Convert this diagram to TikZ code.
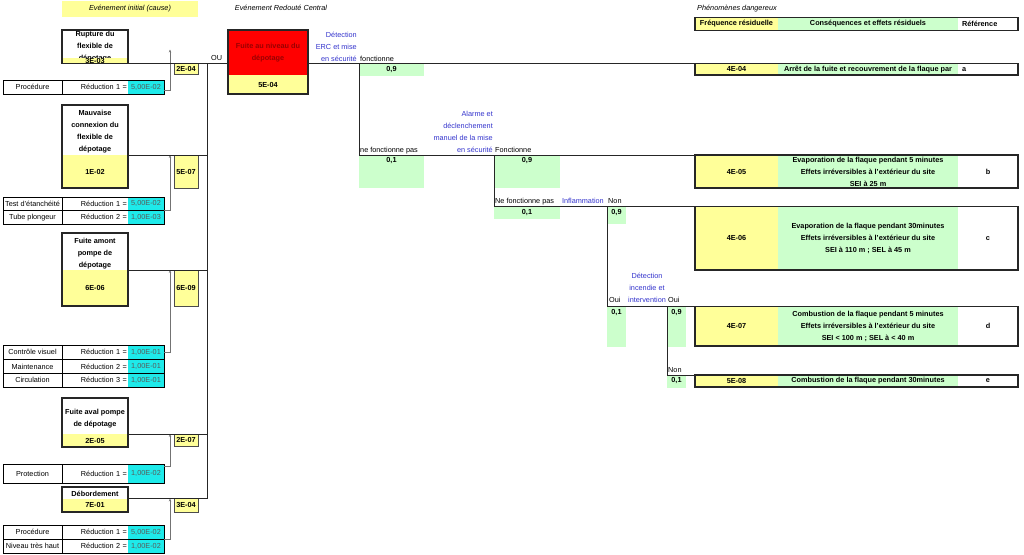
\documentclass[tikz,border=0pt]{standalone}
\usepackage{fontspec}
\setmainfont{Liberation Sans}
\usepackage{xcolor}
\usepackage{tikz}
\usetikzlibrary{positioning,calc,arrows.meta}

\definecolor{xlyellow}{HTML}{FFFF99}
\definecolor{xlgreen}{HTML}{CCFFCC}
\definecolor{xlcyan}{HTML}{1EEAEA}
\definecolor{xlblue}{HTML}{3333CC}
\definecolor{xlred}{HTML}{FF0000}
\definecolor{xlmaroon}{HTML}{990000}

\begin{document}
\begin{tikzpicture}[x=1pt, y=-1pt,
    cell/.style={rectangle, inner sep=0pt, outer sep=0pt, anchor=north west},
    title/.style={inner sep=0pt, font=\itshape},
    causetxt/.style={inner sep=0pt, font=\bfseries, align=center},
    freqcell/.style={cell, fill=xlyellow, font=\bfseries, minimum width=66pt},
    gatebox/.style={cell, fill=xlyellow, draw=black!70, line width=0.6pt, font=\bfseries, minimum width=24pt},
    barrier/.style={cell, draw, line width=0.6pt, minimum width=59pt},
    reduc/.style={cell, text width=64pt, inner xsep=1pt, align=right},
    reducval/.style={cell, fill=xlcyan, text=black!65, minimum width=36pt},
    prob/.style={cell, fill=xlgreen, label={[font=\bfseries, anchor=north, inner sep=2.5pt]north:#1}},
    branchname/.style={inner sep=0pt, text=xlblue},
    state/.style={inner sep=0pt, anchor=base west},
    frame/.style={draw=black!85, line width=1.4pt},
    link/.style={draw=black!85, line width=0.9pt},
    barrow/.style={draw=black!55, line width=0.5pt, -{Stealth[length=3pt,width=2.4pt]}},
    resfreq/.style={cell, fill=xlyellow, font=\bfseries, minimum width=83pt},
    rescons/.style={cell, fill=xlgreen, font=\bfseries, minimum width=180pt, align=center},
    resref/.style={cell, fill=white, font=\bfseries, minimum width=60pt}
  ]
    \fontsize{7.3}{12}\selectfont
    \useasboundingbox (0,0) rectangle (1024,554);

    % Titres
    \node[cell, fill=xlyellow, font=\itshape, minimum width=136pt, minimum height=16pt] (hcause) at (62,1) {Evénement initial (cause)};
    \node[title, anchor=base] (herc) at (281,10.5) {Evénement Redouté Central};
    \node[title, anchor=base west] (hphen) at (697,10) {Phénomènes dangereux};
    \node[resfreq, minimum height=13pt] (hfreq) at (695,17.5) {Fréquence résiduelle};
    \node[rescons, minimum height=13pt] (hcons) at (778,17.5) {Conséquences et effets résiduels};
    \node[resref, minimum height=13pt, text width=52pt, inner xsep=4pt] (href) at (958,17.5) {Référence};
    \draw[frame] (hfreq.north west) rectangle (href.south east);

    % Evénements initiaux
    \foreach \nm/\ya/\yt/\yb/\yc/\txt/\val in {
        c1/30/47/57.5/63.5/Rupture du\\flexible de\\dépotage/3E-03,
        c2/105/131.5/155/188/Mauvaise\\connexion du\\flexible de\\dépotage/1E-02,
        c3/233/253.5/270/306/Fuite amont\\pompe de\\dépotage/6E-06,
        c4/398/418.5/434/447/Fuite aval pompe\\de dépotage/2E-05,
        c5/487/494/498.5/512/Débordement/7E-01}
    {
        \node[causetxt] (\nm t) at (95,\yt) {\txt};
        \node[freqcell, minimum height={(\yc-\yb)*1pt}] (\nm v) at (62,\yb) {\val};
        \draw[frame] (62,\ya) rectangle (128,\yc);
    }

    % Frequences apres barrieres
    \node[gatebox, minimum height=11pt] (g1) at (174,63.5) {2E-04};
    \node[gatebox, minimum height=33pt] (g2) at (174,155) {5E-07};
    \node[gatebox, minimum height=36pt] (g3) at (174,270) {6E-09};
    \node[gatebox, minimum height=12pt] (g4) at (174,434) {2E-07};
    \node[gatebox, minimum height=13.5pt] (g5) at (174,498.5) {3E-04};

    % Barrieres de prevention
    \foreach \nm/\y/\h/\lab/\k/\val in {
        b1a/80/14/Procédure/1/{5,00E-02},
        b2a/197/13.5/Test d'étanchéité/1/{5,00E-02},
        b2b/210.5/13.5/Tube plongeur/2/{1,00E-03},
        b3a/345/14.5/Contrôle visuel/1/{1,00E-01},
        b3b/359.5/14/Maintenance/2/{1,00E-01},
        b3c/373.5/13.5/Circulation/3/{1,00E-01},
        b4a/464/19/Protection/1/{1,00E-02},
        b5a/525/14/Procédure/1/{5,00E-02},
        b5b/539/14/Niveau très haut/2/{1,00E-02}}
    {
        \node[barrier, minimum height=\h pt] (\nm) at (3,\y) {\lab};
        \node[reduc, minimum height=\h pt] (\nm r) at (62,\y) {Réduction \k~=};
        \node[reducval, minimum height=\h pt] (\nm v) at (128,\y) {\val};
        \draw[line width=0.6pt] (\nm r.north west) rectangle (\nm v.south east);
    }

    \draw[barrow] ([yshift=-3pt]b1av.east) -| ([xshift=-4pt,yshift=14pt]g1.north west);
    \draw[barrow] (b2av.south east) -| ([xshift=-4pt]g2.north west);
    \draw[barrow] (b3av.east) -| ([xshift=-4pt]g3.north west);
    \draw[barrow] ([yshift=-2pt]b4av.north east) -| ([xshift=-4pt]g4.north west);
    \draw[barrow] (b5av.south east) -| ([xshift=-4pt]g5.north west);

    % Evenement redoute central
    \node[cell, fill=xlred, text=xlmaroon, font=\bfseries, align=center, minimum width=80pt, minimum height=45pt] (erc) at (228,30) {Fuite au niveau du\\dépotage};
    \node[freqcell, minimum width=80pt, minimum height=19pt] (ercv) at (228,75) {5E-04};
    \draw[frame] (erc.north west) rectangle (ercv.south east);
    \node[state] (oulbl) at (211,60.5) {OU};

    % Arbre d'evenements
    \node[prob={0,9}, minimum width=65pt, minimum height=12pt] (p1y) at (359,63.5) {};
    \node[prob={0,1}, minimum width=65pt, minimum height=33pt] (p1n) at (359,155) {};
    \node[prob={0,9}, minimum width=66pt, minimum height=33pt] (p2y) at (494,155) {};
    \node[prob={0,1}, minimum width=66pt, minimum height=12.5pt] (p2n) at (494,206.5) {};
    \node[prob={0,9}, minimum width=19pt, minimum height=17.5pt] (p3y) at (607,206.5) {};
    \node[prob={0,1}, minimum width=19pt, minimum height=40pt] (p3n) at (607,306.5) {};
    \node[prob={0,9}, minimum width=19pt, minimum height=40pt] (p4y) at (667,306.5) {};
    \node[prob={0,1}, minimum width=19pt, minimum height=12.5pt] (p4n) at (667,375) {};

    \node[branchname, align=right, anchor=south east] (q1) at (357,61.5) {Détection\\ERC et mise\\en sécurité};
    \node[branchname, align=right, anchor=south east] (q2) at (493,152.5) {Alarme et\\déclenchement\\manuel de la mise\\en sécurité};
    \node[branchname, anchor=base east] (q3) at (604,203.5) {Inflammation};
    \node[branchname, align=center, anchor=south] (q4) at (647,302.5) {Détection\\incendie et\\intervention};

    \node[state] (s1y) at (360,61) {fonctionne};
    \node[state] (s1n) at (360,152.5) {ne fonctionne pas};
    \node[state] (s2y) at (495,152.5) {Fonctionne};
    \node[state] (s2n) at (495,203.5) {Ne fonctionne pas};
    \node[state] (s3y) at (608,203.5) {Non};
    \node[state] (s3n) at (609,302.5) {Oui};
    \node[state] (s4y) at (668,302.5) {Oui};
    \node[state] (s4n) at (668,372.5) {Non};

    % Phenomenes dangereux
    \node[resfreq, minimum height=11.5pt] (oaf) at (695,63.5) {4E-04};
    \node[rescons, minimum height=11.5pt] (oac) at (778,63.5) {Arrêt de la fuite et recouvrement de la flaque par};
    \node[resref, minimum height=11.5pt, text width=52pt, inner xsep=4pt] (oar) at (958,63.5) {a};
    \draw[frame] (oaf.north west) rectangle (oar.south east);
    \foreach \nm/\y/\h/\fr/\txt/\refl in {
        ob/155/33/4E-05/Evaporation de la flaque pendant 5 minutes\\Effets irréversibles à l'extérieur du site\\SEI à 25 m/b,
        oc/206.5/63.5/4E-06/Evaporation de la flaque pendant 30minutes\\Effets irréversibles à l'extérieur du site\\SEI à 110 m ; SEL à 45 m/c,
        od/306.5/39.5/4E-07/Combustion de la flaque pendant 5 minutes\\Effets irréversibles à l'extérieur du site\\SEI < 100 m ; SEL à < 40 m/d,
        oe/375/12/5E-08/Combustion de la flaque pendant 30minutes/e}
    {
        \node[resfreq, minimum height=\h pt] (\nm f) at (695,\y) {\fr};
        \node[rescons, minimum height=\h pt] (\nm c) at (778,\y) {\txt};
        \node[resref, minimum height=\h pt] (\nm r) at (958,\y) {\refl};
        \draw[frame] (\nm f.north west) rectangle (\nm r.south east);
    }

    % Liaisons
    \coordinate (ou) at (207,63.5);
    \draw[link] (c1v.south east) -- (ou);
    \draw[link] (c2v.north east) -- (c2v.north east -| ou);
    \draw[link] (c3v.north east) -- (c3v.north east -| ou);
    \draw[link] (c4v.north east) -- (c4v.north east -| ou);
    \draw[link] (c5v.north east) -- (c5v.north east -| ou) -- (ou) -- (ou -| erc.west);
    \draw[link] (ou -| ercv.east) -- (oaf.north west);
    \draw[link] (p1y.north west) |- (obf.north west);
    \draw[link] (p2y.north west) |- (ocf.north west);
    \draw[link] (p3y.north west) |- (odf.north west);
    \draw[link] (p4y.north west) |- (oef.north west);
\end{tikzpicture}
\end{document}
